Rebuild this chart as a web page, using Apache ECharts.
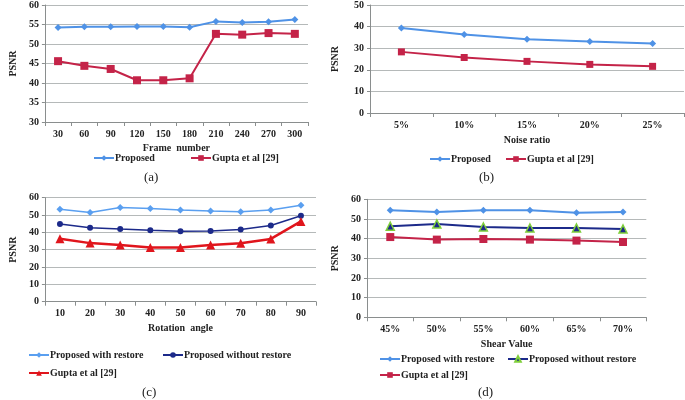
<!DOCTYPE html>
<html><head><meta charset="utf-8">
<script src="https://cdn.jsdelivr.net/npm/echarts@6/dist/echarts.min.js"></script>
<style>
html,body{margin:0;padding:0;background:#fff;width:685px;height:400px;overflow:hidden;}
.p{position:absolute;}
</style></head><body>
<div id="a" class="p" style="left:0;top:0;width:342px;height:200px"></div>
<div id="b" class="p" style="left:322px;top:0;width:363px;height:200px"></div>
<div id="c" class="p" style="left:0;top:188px;width:342px;height:212px"></div>
<div id="d" class="p" style="left:322px;top:188px;width:363px;height:212px"></div>
<script>
// ---- data ----
const framesA = ['30','60','90','120','150','180','210','240','270','300'];
const proposedA = [54.2,54.4,54.4,54.5,54.5,54.3,55.8,55.5,55.7,56.3];
const guptaA = [45.6,44.4,43.6,40.7,40.7,41.2,52.6,52.4,52.8,52.6];

const noiseB = ['5%','10%','15%','20%','25%'];
const proposedB = [39.4,36.3,34.2,33.1,32.2];
const guptaB = [28.3,25.7,23.9,22.5,21.6];

const anglesC = ['10','20','30','40','50','60','70','80','90'];
const withRestoreC = [53.3,51.5,54.4,53.7,52.9,52.3,51.9,52.9,55.6];
const withoutRestoreC = [44.8,42.7,41.9,41.2,40.6,40.8,41.7,44.0,49.6];
const guptaC = [36.3,33.8,32.7,31.2,31.2,32.7,33.7,36.2,46.3];

const shearD = ['45%','50%','55%','60%','65%','70%'];
const withRestoreD = [54.4,53.6,54.4,54.4,53.2,53.6];
const withoutRestoreD = [46.3,47.5,45.9,45.4,45.4,44.9];
const guptaD = [40.8,39.5,39.8,39.5,39.0,38.3];

// ---- styles ----
const FONT = '"Liberation Serif", "DejaVu Serif", serif';
const BLUE = '#4f92e6', CRIMSON = '#c42348', NAVY = '#1c2a8a', RED = '#e0151c', LBLUE = '#5a9ff0';
const FS = 10;
const tickTxt = {fontFamily: FONT, fontWeight: 'bold', fontSize: FS, color: '#222'};
const gridLine = {lineStyle: {color: '#b5b9b9', width: 1}};
const axisLine = {lineStyle: {color: '#8a8e8e', width: 1}};

function xAxis(cats, name, gap) {
  return {type: 'category', data: cats, boundaryGap: true,
    axisLine: {show: true, ...axisLine}, axisTick: {show: true, length: 4, lineStyle: {color: '#8a8e8e'}},
    axisLabel: {...tickTxt, margin: 7, interval: 0},
    name: name, nameLocation: 'middle', nameGap: gap,
    nameTextStyle: {fontFamily: FONT, fontWeight: 'bold', fontSize: FS, color: '#222'}};
}
function yAxis(min, max, interval, gap) {
  return {type: 'value', min: min, max: max, interval: interval,
    axisLine: {show: true, ...axisLine}, axisTick: {show: true, length: 3, lineStyle: {color: '#8a8e8e'}},
    splitLine: {show: true, ...gridLine},
    axisLabel: {...tickTxt, margin: 6},
    name: 'PSNR', nameLocation: 'middle', nameGap: gap, nameRotate: 90,
    nameTextStyle: {fontFamily: FONT, fontWeight: 'bold', fontSize: FS, color: '#222'}};
}
function line(name, data, color, symbol, size, width, extra) {
  return Object.assign({name: name, type: 'line', data: data, symbol: symbol, symbolSize: size,
    lineStyle: {color: color, width: width}, itemStyle: {color: color},
    animation: false, z: 3}, extra || {});
}
function leg(name, left, top) {
  return {data: [name], left: left, top: top, itemWidth: 20, itemHeight: 7, padding: 0,
    textStyle: {fontFamily: FONT, fontWeight: 'bold', fontSize: FS, color: '#222', padding: [0,0,0,-4]}};
}
function label(txt, left, top) {
  return {text: txt, left: left, top: top, padding: 0,
    textStyle: {fontFamily: FONT, fontWeight: 'normal', fontSize: 13, color: '#222'}};
}

// (a)
echarts.init(document.getElementById('a')).setOption({
  animation: false,
  grid: {left: 30, top: 4, width: 278, height: 118},
  xAxis: xAxis(framesA, 'Frame  number', 16),
  yAxis: yAxis(30, 60, 5, 21),
  legend: [leg('Proposed', 93, 153), leg('Gupta et al [29]', 190, 153)],
  title: label('(a)', 144, 171),
  series: [line('Proposed', proposedA, BLUE, 'diamond', 7, 2),
           line('Gupta et al [29]', guptaA, CRIMSON, 'rect', 8, 2)]
});

// (b)
echarts.init(document.getElementById('b')).setOption({
  animation: false,
  grid: {left: 36, top: 5, width: 326, height: 108},
  xAxis: xAxis(noiseB, 'Noise ratio', 22),
  yAxis: yAxis(0, 50, 10, 30),
  legend: [leg('Proposed', 107, 154), leg('Gupta et al [29]', 183, 154)],
  title: label('(b)', 157, 171),
  series: [line('Proposed', proposedB, BLUE, 'diamond', 7, 2),
           line('Gupta et al [29]', guptaB, CRIMSON, 'rect', 7, 2)]
});

// (c)
echarts.init(document.getElementById('c')).setOption({
  animation: false,
  grid: {left: 31, top: 9.7, width: 285, height: 104},
  xAxis: xAxis(anglesC, 'Rotation  angle', 22),
  yAxis: yAxis(0, 60, 10, 21),
  legend: [leg('Proposed with restore', 28, 162), leg('Proposed without restore', 162, 162),
           leg('Gupta et al [29]', 28, 180)],
  title: label('(c)', 142, 198),
  series: [line('Proposed with restore', withRestoreC, LBLUE, 'diamond', 7, 1.5),
           line('Proposed without restore', withoutRestoreC, NAVY, 'circle', 6, 1.5),
           line('Gupta et al [29]', guptaC, RED, 'triangle', 9, 2.5)]
});

// (d)
echarts.init(document.getElementById('d')).setOption({
  animation: false,
  grid: {left: 34.7, top: 11.3, width: 289.6, height: 118},
  xAxis: xAxis(shearD, 'Shear Value', 21),
  yAxis: yAxis(0, 60, 10, 27),
  legend: [leg('Proposed with restore', 57, 166), leg('Proposed without restore', 185, 166),
           leg('Gupta et al [29]', 57, 182)],
  title: label('(d)', 156, 198),
  series: [line('Proposed with restore', withRestoreD, BLUE, 'diamond', 7, 2),
           line('Proposed without restore', withoutRestoreD, NAVY, 'triangle', 8, 2,
             {itemStyle: {color: NAVY, borderColor: '#7fcf3a', borderWidth: 1.5}}),
           line('Gupta et al [29]', guptaD, CRIMSON, 'rect', 8, 2)]
});
</script>
</body></html>
